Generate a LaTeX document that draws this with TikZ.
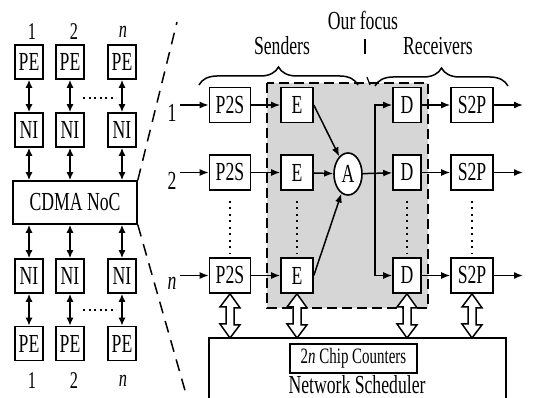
\documentclass[tikz,border=0pt]{standalone}
\usepackage{fontspec}
\setmainfont[FakeStretch=0.68]{Liberation Serif}
\usetikzlibrary{arrows.meta,decorations.pathreplacing,calc,shapes.geometric}
\begin{document}
\begin{tikzpicture}[x=1pt,y=-1pt,
  bigfont/.style={font=\fontsize{26}{28}\selectfont},
  midfont/.style={font=\fontsize{22}{24}\selectfont},
  smallfont/.style={font=\fontsize{24}{26}\selectfont},
  lbox/.style={draw, line width=1.6pt, fill=white, inner sep=0pt, minimum width=28pt, minimum height=34pt, bigfont},
  rbox/.style={draw, line width=1.6pt, fill=white, inner sep=0pt, minimum height=35pt, bigfont},
  arr/.style={line width=1.5pt, -{Latex[length=9pt,width=7pt]}},
  dbl/.style={line width=1.5pt, {Latex[length=8pt,width=7pt]}-{Latex[length=8pt,width=7pt]}},
  dots/.style={line width=2pt, dash pattern=on 2pt off 4.5pt},
  hdots/.style={line width=2pt, dash pattern=on 2pt off 3.5pt},
  zoomline/.style={line width=1.5pt, dash pattern=on 12pt off 8pt},
  focusline/.style={line width=2pt, dash pattern=on 10pt off 5pt},
  bracestyle/.style={line width=1.5pt, decorate, decoration={brace, amplitude=18pt}},
  hollow/.style={line width=1.5pt, fill=white}
]
\useasboundingbox (0,0) rectangle (536,398);

% ---------------- left part ----------------
\node[smallfont] (t1) at (32,32) {1};
\node[smallfont] (t2) at (74,32) {2};
\node[smallfont] (t3) at (123,32) {\textit{n}};
\node[lbox] (pe1) at (29,62) {PE};
\node[lbox] (pe2) at (70,62) {PE};
\node[lbox] (pe3) at (122,62) {PE};
\node[lbox] (ni1) at (29,130) {NI};
\node[lbox] (ni2) at (70,130) {NI};
\node[lbox] (ni3) at (122,130) {NI};
\node[draw, line width=1.6pt, fill=white, minimum width=124pt, minimum height=43pt, inner sep=0pt, bigfont] (cdma) at (75,202.5) {CDMA NoC};
\node[lbox] (ni4) at (29,276) {NI};
\node[lbox] (ni5) at (70,276) {NI};
\node[lbox] (ni6) at (122,276) {NI};
\node[lbox] (pe4) at (29,343.5) {PE};
\node[lbox] (pe5) at (70,343.5) {PE};
\node[lbox] (pe6) at (122,343.5) {PE};
\node[smallfont] (b1) at (32,381) {1};
\node[smallfont] (b2) at (74,381) {2};
\node[smallfont] (b3) at (123,381) {\textit{n}};

\foreach \u/\v in {pe1/ni1,pe2/ni2,pe3/ni3,ni4/pe4,ni5/pe5,ni6/pe6}{
  \draw[dbl] (\u.south) -- (\v.north);
}
\foreach \u in {ni1,ni2,ni3}{
  \draw[dbl] (\u.south) -- (\u.south |- cdma.north);
}
\foreach \u in {ni4,ni5,ni6}{
  \draw[dbl] (\u.north |- cdma.south) -- (\u.north);
}
\coordinate (hd1) at (83,98);
\coordinate (hd2) at (116,98);
\coordinate (hd3) at (83,310);
\coordinate (hd4) at (116,310);
\draw[hdots] (hd1) -- (hd2);
\draw[hdots] (hd3) -- (hd4);

\coordinate (zt) at (177,22);
\coordinate (zb) at (186,394);
\draw[zoomline] (cdma.north east) -- (zt);
\draw[zoomline] (cdma.south east) -- (zb);

% ---------------- right part ----------------
\fill[gray!32] (267,83) rectangle (428,308);
\draw[focusline] (267,83) rectangle (428,308);

\node[bigfont] (our) at (363,20) {Our focus};
\node[bigfont] (snd) at (282,46) {Senders};
\node[bigfont] (rcv) at (438,46) {Receivers};
\coordinate (sb1) at (199,85);
\coordinate (sb2) at (358,85);
\coordinate (rb1) at (375,86);
\coordinate (rb2) at (508,86);
\draw[bracestyle] (sb1) -- (sb2);
\draw[bracestyle] (rb1) -- (rb2);
\coordinate (f1) at (365,39);
\coordinate (f2) at (365,54);
\coordinate (f3) at (367,77);
\coordinate (f4) at (370,85);
\draw[line width=1.2pt] (f1) -- (f2);
\draw[line width=1.2pt] (f3) -- (f4);

% rows
\foreach \r/\y/\lab in {1/105/1, 2/172.5/2, 3/275.5/\textit{n}}{
  \node[bigfont] (in\r) at (172,\y+8) {\lab};
  \node[rbox, minimum width=41pt] (p\r) at (230,\y) {P2S};
  \node[rbox, minimum width=32pt] (e\r) at (297,\y) {E};
  \node[rbox, minimum width=28pt] (d\r) at (407,\y) {D};
  \node[rbox, minimum width=42pt] (s\r) at (472,\y) {S2P};
  \coordinate (o\r) at (523,\y);
  \draw[arr] (in\r.east |- p\r.west) -- (p\r.west);
  \draw[arr] (p\r) -- (e\r);
  \draw[arr] (d\r) -- (s\r);
  \draw[arr] (s\r) -- (o\r);
}
\node[bigfont] (r2) at (541,180) {2};

\node[draw, ellipse, line width=1.6pt, fill=white, minimum width=28pt, minimum height=42pt, inner sep=0pt, bigfont] (A) at (348,174) {A};
\draw[arr] (e1.east) -- (A);
\draw[arr] (e2) -- (A);
\draw[arr] (e3.east) -- (A);
\coordinate (bus) at (375,174);
\draw[arr] (A) -- (d2);
\draw[arr] (bus) |- (d1.west);
\draw[arr] (bus) |- (d3.west);

% dotted vertical lines
\foreach \c in {p,e,d,s}{
  \draw[dots] ($(\c2.south)+(0,10)$) -- ($(\c3.north)+(0,-4)$);
}

% scheduler
\draw[line width=1.6pt] (209,410) -- (209,338) -- (506,338) -- (506,410);
\coordinate (sched) at (357,338);
\node[draw, line width=1.6pt, minimum width=127pt, minimum height=29pt, inner sep=0pt, midfont] (chip) at (353.5,358.5) {2\textit{n} Chip Counters};
\node[bigfont, inner sep=1pt] (ns) at (357,385) {Network Scheduler};

% hollow double arrows
\foreach \c in {p3,e3,d3,s3}{
  \draw[hollow] (\c.south) -- ++(10,14) -- ++(-6,0) -- ++(0,17) -- ++(6,0)
     -- (\c.south |- sched) -- ++(-10,-14) -- ++(6,0) -- ++(0,-17) -- ++(-6,0) -- cycle;
}
\end{tikzpicture}
\end{document}
